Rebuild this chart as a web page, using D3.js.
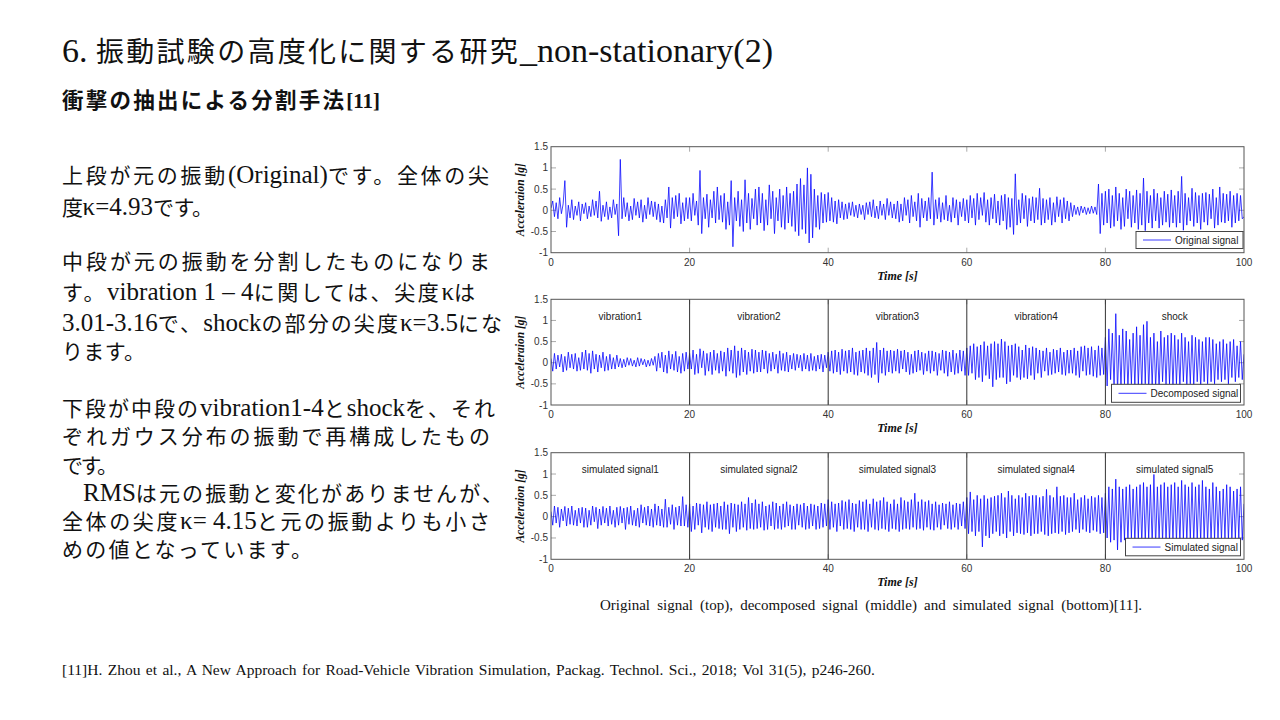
<!DOCTYPE html>
<html><head><meta charset="utf-8">
<script src="https://cdn.jsdelivr.net/npm/d3@7"></script>
<style>body{margin:0;background:#fff}svg{display:block}</style>
</head><body>
<svg id="c" width="1280" height="720"></svg>
<script>
// ---- DATA: acceleration in hundredths of g, one sample every 0.25 s ----
const sampleStep = 0.25;
const valueUnit = 0.01;
const originalSignal = [
 5,22,-15,18,-20,30,-8,15,70,-40,12,-18,25,-22,10,-12,20,-25,15,-8,
 18,-20,10,-15,25,-12,22,-18,45,-26,12,-15,20,-22,8,-18,25,-10,15,-60,
 120,-20,30,-15,18,-25,10,-22,28,-12,20,-18,25,-28,12,-20,30,-10,22,-15,
 20,-22,15,-28,10,-30,25,-18,55,-42,30,-20,35,-15,40,-32,18,-25,30,-20,
 30,-25,40,-12,22,-35,94,-55,30,-20,38,-40,25,-18,45,-30,55,-22,35,-28,
 40,-45,20,-35,70,-86,30,-25,45,-38,25,-50,72,-30,40,-45,28,-20,50,-35,
 55,-30,40,-48,25,-35,60,-20,45,-55,30,-25,50,-40,35,-45,55,-30,40,-38,
 45,-50,62,-60,75,-45,60,-55,100,-77,85,-65,50,-40,35,-45,42,-30,38,-28,
 42,-25,30,-28,22,-32,25,-18,20,-22,15,-20,18,-12,20,-15,12,-18,15,-10,
 12,-22,18,-10,20,-15,25,-18,10,-20,22,-12,15,-22,28,-12,20,-18,15,-20,
 22,-28,15,-25,30,-12,25,-30,35,-15,20,-25,40,-40,28,-18,22,-25,30,-20,
 90,-35,25,-20,30,-28,18,-22,35,-25,12,-28,30,-18,25,-35,20,-15,28,-25,
 25,-30,35,-18,28,-35,40,-22,30,-12,42,-28,25,-35,30,-20,38,-30,22,-35,
 35,-25,38,-45,30,-40,28,-57,86,-35,25,-30,40,-20,35,-38,28,-25,32,-30,
 30,-22,52,-35,28,-30,25,-22,30,-35,18,-28,32,-15,25,-30,30,-20,22,-25,
 18,-15,12,-10,8,-12,10,-6,8,-10,6,-8,10,-7,8,-10,62,-55,40,-35,
 45,-30,50,-42,35,-38,55,-25,40,-45,30,-38,50,-20,45,-40,35,-30,48,-45,
 40,-35,76,-48,45,-30,35,-42,50,-25,40,-42,30,-35,45,-28,38,-40,48,-30,
 35,-40,45,-30,80,-47,40,-35,30,-25,52,-38,42,-30,35,-45,40,-28,42,-35,
 38,-20,50,-42,30,-35,55,-28,40,-30,38,-25,45,-40,35,-30,40,-25,35,-20,
 -15
];
const decomposedSignal = [
 10,-20,22,-15,18,-10,20,-22,15,-18,25,-12,20,-15,22,-20,12,-18,25,-15,
 30,-18,22,-25,28,-15,20,-22,18,-12,25,-20,15,-18,20,-15,12,-15,18,-10,
 10,-12,8,-10,12,-6,10,-8,6,-10,12,-8,10,-5,8,-10,6,-8,10,-6,
 15,-20,22,-12,25,-22,18,-25,28,-15,20,-18,27,-22,15,-25,22,-20,25,-15,
 22,-15,30,-28,20,-25,33,-12,28,-30,22,-20,25,-28,30,-18,22,-25,28,-20,
 25,-32,35,-20,30,-25,40,-35,28,-30,35,-22,30,-28,25,-20,32,-25,30,-22,
 25,-22,30,-15,28,-25,22,-20,25,-15,20,-25,28,-18,22,-20,25,-22,18,-15,
 22,-18,20,-12,18,-20,22,-15,18,-20,22,-18,15,-20,18,-15,20,-22,18,-12,
 25,-20,28,-25,30,-22,25,-28,32,-20,28,-25,30,-22,35,-28,25,-30,28,-22,
 30,-25,35,-30,28,-35,35,-28,48,-47,30,-25,35,-30,28,-22,30,-25,28,-20,
 32,-25,28,-15,30,-22,25,-28,20,-25,28,-22,30,-18,25,-28,22,-20,28,-25,
 28,-20,25,-30,22,-18,30,-25,28,-32,25,-22,30,-28,22,-25,30,-20,28,-30,
 35,-30,40,-25,45,-40,38,-35,42,-45,50,-30,40,-38,45,-57,50,-40,45,-35,
 56,-35,50,-50,40,-45,42,-30,45,-35,38,-40,30,-35,42,-38,35,-30,38,-40,
 35,-25,30,-35,28,-20,35,-30,25,-28,32,-25,30,-22,35,-28,25,-30,30,-25,
 30,-25,35,-30,28,-35,38,-20,40,-30,35,-28,38,-32,30,-35,40,-30,35,-28,
 60,-55,80,-40,70,-60,116,-70,65,-60,80,-50,75,-65,55,-50,70,-60,85,-55,
 65,-65,90,-50,98,-70,60,-55,70,-60,50,-65,75,-45,60,-55,65,-50,70,-60,
 65,-50,55,-60,70,-45,60,-55,50,-50,65,-55,60,-45,55,-60,50,-45,60,-50,
 60,-45,55,-50,45,-40,50,-45,55,-40,45,-50,50,-35,55,-45,40,-35,50,-40,
 20
];
const simulatedSignal = [
 12,-20,25,-15,22,-25,18,-10,24,-22,20,-18,25,-20,15,-22,20,-15,22,-25,
 20,-25,15,-20,25,-12,22,-28,18,-20,24,-15,20,-22,25,-18,15,-25,22,-20,
 24,-15,20,-30,22,-18,25,-20,15,-22,20,-25,28,-15,22,-20,25,-22,18,-25,
 30,-20,25,-22,18,-25,41,-25,22,-18,28,-30,22,-20,25,-22,47,-22,28,-25,
 30,-35,25,-30,32,-20,30,-38,28,-25,35,-30,28,-35,30,-25,32,-28,25,-30,
 35,-30,28,-40,32,-25,30,-35,28,-30,35,-25,30,-32,45,-28,32,-30,40,-28,
 30,-25,35,-32,25,-30,28,-22,35,-30,32,-28,25,-30,30,-25,35,-22,28,-30,
 25,-30,30,-20,28,-25,32,-30,25,-28,30,-22,28,-30,25,-28,32,-25,30,-22,
 40,-30,35,-25,30,-35,32,-22,38,-30,35,-28,40,-30,32,-35,30,-25,38,-30,
 35,-30,40,-35,30,-25,42,-30,35,-32,38,-28,45,-30,35,-35,30,-28,40,-30,
 30,-35,45,-30,38,-28,35,-30,40,-25,55,-30,35,-28,40,-32,35,-25,38,-30,
 30,-32,35,-25,28,-30,32,-20,30,-28,35,-30,28,-25,32,-30,30,-22,35,-28,
 45,-40,58,-35,40,-45,50,-35,42,-71,50,-45,42,-50,45,-40,48,-35,50,-45,
 55,-40,45,-50,60,-35,50,-45,42,-38,50,-40,45,-42,55,-38,48,-45,50,-40,
 50,-40,45,-35,48,-42,64,-45,50,-40,45,-38,70,-40,48,-35,50,-42,45,-38,
 45,-35,55,-30,40,-38,45,-30,50,-35,42,-38,48,-32,45,-35,50,-40,45,-38,
 55,-50,70,-60,65,-55,88,-78,70,-60,65,-55,70,-60,75,-50,65,-62,70,-55,
 75,-65,80,-60,70,-55,75,-68,99,-70,70,-55,75,-60,80,-65,70,-60,75,-58,
 80,-60,70,-65,85,-55,75,-60,70,-55,80,-62,70,-58,75,-60,85,-55,70,-60,
 65,-60,80,-55,70,-50,60,-55,65,-50,75,-58,70,-55,60,-52,65,-50,70,-55,
 30
];
const xTicks = [0, 20, 40, 60, 80, 100];
const yTicks = [-1, -0.5, 0, 0.5, 1, 1.5];
const segmentBounds = [20, 40, 60, 80];
const decomposedLabels = ["vibration1", "vibration2", "vibration3", "vibration4", "shock"];
const simulatedLabels = ["simulated signal1", "simulated signal2", "simulated signal3", "simulated signal4", "simulated signal5"];
const legendNames = ["Original signal", "Decomposed signal", "Simulated signal"];

// ---- CHART ----
const svg = d3.select("#c");
const serif = "'Liberation Serif','Times New Roman',serif";
const jp = "'Noto Sans CJK JP','Noto Sans',sans-serif";
const sans = "'Liberation Sans',Arial,sans-serif";
const x = d3.scaleLinear().domain([0, 100]).range([551, 1244]);

const panels = [
  {top: 146.7, bottom: 252.7, data: originalSignal, legend: legendNames[0], labels: null, legendBox: {x: 1136, y: 231.5, w: 107, h: 17}},
  {top: 299.3, bottom: 405, data: decomposedSignal, legend: legendNames[1], labels: decomposedLabels, legendBox: {x: 1111.5, y: 384.3, w: 129, h: 18}},
  {top: 452.7, bottom: 559.3, data: simulatedSignal, legend: legendNames[2], labels: simulatedLabels, legendBox: {x: 1125.5, y: 538.3, w: 115, h: 17.5}}
];

panels.forEach((p, pi) => {
  const y = d3.scaleLinear().domain([-1, 1.5]).range([p.bottom, p.top]);
  const g = svg.append("g");
  const cid = "clip" + pi;
  svg.append("clipPath").attr("id", cid).append("rect")
    .attr("x", x(0)).attr("y", p.top).attr("width", x(100) - x(0)).attr("height", p.bottom - p.top);

  xTicks.slice(1, -1).forEach(t => {
    g.append("line").attr("x1", x(t)).attr("x2", x(t)).attr("y1", p.top).attr("y2", p.top + 5).attr("stroke", "#aaa");
    g.append("line").attr("x1", x(t)).attr("x2", x(t)).attr("y1", p.bottom).attr("y2", p.bottom - 5).attr("stroke", "#aaa");
  });
  yTicks.slice(1, -1).forEach(t => {
    g.append("line").attr("x1", x(0)).attr("x2", x(0) + 5).attr("y1", y(t)).attr("y2", y(t)).attr("stroke", "#aaa");
    g.append("line").attr("x1", x(100)).attr("x2", x(100) - 5).attr("y1", y(t)).attr("y2", y(t)).attr("stroke", "#aaa");
  });

  const line = d3.line().x((d, i) => x(i * sampleStep)).y(d => y(d * valueUnit));
  g.append("path").datum(p.data).attr("d", line)
    .attr("fill", "none").attr("stroke", "#0000ff").attr("stroke-width", 1)
    .attr("stroke-opacity", 0.75).attr("clip-path", `url(#${cid})`);

  if (p.labels) {
    segmentBounds.forEach(b => {
      g.append("line").attr("x1", x(b)).attr("x2", x(b)).attr("y1", p.top).attr("y2", p.bottom)
        .attr("stroke", "#333").attr("stroke-width", 1);
    });
    const edges = [0, ...segmentBounds, 100];
    p.labels.forEach((lab, i) => {
      g.append("text").attr("x", x((edges[i] + edges[i + 1]) / 2)).attr("y", y(1.1) + 3.5)
        .attr("text-anchor", "middle").attr("font-family", sans).attr("font-size", 10)
        .attr("fill", "#222").text(lab);
    });
  }

  g.append("rect").attr("x", x(0)).attr("y", p.top).attr("width", x(100) - x(0)).attr("height", p.bottom - p.top)
    .attr("fill", "none").attr("stroke", "#555").attr("stroke-width", 1);

  yTicks.forEach(t => {
    g.append("text").attr("x", x(0) - 3).attr("y", y(t) + 3.5).attr("text-anchor", "end")
      .attr("font-family", sans).attr("font-size", 10).attr("fill", "#333").text(String(t));
  });
  xTicks.forEach(t => {
    g.append("text").attr("x", x(t)).attr("y", p.bottom + 13).attr("text-anchor", "middle")
      .attr("font-family", sans).attr("font-size", 10).attr("fill", "#333").text(String(t));
  });

  g.append("text").attr("x", (x(0) + x(100)) / 2).attr("y", p.bottom + 27).attr("text-anchor", "middle")
    .attr("font-family", serif).attr("font-size", 12).attr("font-weight", "bold").attr("font-style", "italic")
    .attr("fill", "#111").text("Time [s]");
  const yc = (p.top + p.bottom) / 2;
  g.append("text").attr("transform", `translate(524,${yc}) rotate(-90)`).attr("text-anchor", "middle")
    .attr("font-family", serif).attr("font-size", 11.5).attr("font-weight", "bold").attr("font-style", "italic")
    .attr("fill", "#111").text("Acceleraion [g]");

  const L = p.legendBox;
  g.append("rect").attr("x", L.x).attr("y", L.y).attr("width", L.w).attr("height", L.h)
    .attr("fill", "#fff").attr("stroke", "#444").attr("stroke-width", 1);
  g.append("line").attr("x1", L.x + 7).attr("x2", L.x + 35).attr("y1", L.y + L.h / 2).attr("y2", L.y + L.h / 2)
    .attr("stroke", "#3a3aff").attr("stroke-width", 1);
  g.append("text").attr("x", L.x + 39).attr("y", L.y + L.h / 2 + 3.5)
    .attr("font-family", sans).attr("font-size", 10).attr("fill", "#222").text(p.legend);
});

// ---- TEXT ----
const cjkRe = /[\u3000-\u30ff\u4e00-\u9fff\uff00-\uffef]/;
function mixedText(str, tx, ty, latinSize, cjkSize, width, bold) {
  const t = svg.append("text").attr("x", tx).attr("y", ty).attr("fill", "#111")
    .attr("font-weight", bold ? "bold" : "normal");
  const runs = [];
  for (const ch of str) {
    const isJ = cjkRe.test(ch);
    if (runs.length && runs[runs.length - 1].j === isJ) runs[runs.length - 1].s += ch;
    else runs.push({j: isJ, s: ch});
  }
  const spans = runs.map(r => t.append("tspan").attr("font-family", r.j ? jp : serif)
    .attr("font-size", r.j ? cjkSize : latinSize).text(r.s));
  if (width) {
    const nat = t.node().getComputedTextLength();
    const nJ = [...str].filter(c => cjkRe.test(c)).length;
    const lastJ = runs.length && runs[runs.length - 1].j ? 1 : 0;
    const gaps = nJ - lastJ;
    if (gaps > 0) {
      const ls = (width - nat) / gaps;
      spans.forEach((s, i) => { if (runs[i].j) s.attr("letter-spacing", ls); });
    }
  }
  return t;
}

mixedText("6. 振動試験の高度化に関する研究_non-stationary(2)", 62, 62, 34, 28, 711, false);
mixedText("衝撃の抽出による分割手法[11]", 62, 108, 21, 21.5, 318, true);

const bodyLines = [
  ["上段が元の振動(Original)です。全体の尖", 62, 183, 427],
  ["度κ=4.93です。", 62, 215, 151],
  ["中段が元の振動を分割したものになりま", 62, 269, 428],
  ["す。vibration 1 – 4に関しては、尖度κは", 62, 300, 413],
  ["3.01-3.16で、shockの部分の尖度κ=3.5にな", 62, 331, 440],
  ["ります。", 62, 359, 83],
  ["下段が中段のvibration1-4とshockを、それ", 62, 416, 433],
  ["ぞれガウス分布の振動で再構成したもの", 62, 444, 428],
  ["です。", 62, 473, 56],
  ["RMSは元の振動と変化がありませんが、", 83, 501, 420],
  ["全体の尖度κ= 4.15と元の振動よりも小さ", 62, 529, 428],
  ["めの値となっています。", 62, 557, 250]
];
bodyLines.forEach(([s, bx, by, w]) => mixedText(s, bx, by, 25, 21, w, false));

function spacedLine(str, tx, ty, size, width) {
  const t = svg.append("text").attr("x", tx).attr("y", ty).attr("font-family", serif)
    .attr("font-size", size).attr("fill", "#111").text(str);
  const natural = t.node().getComputedTextLength();
  const gaps = (str.match(/ /g) || []).length;
  if (gaps) t.attr("word-spacing", Math.max(0, (width - natural) / gaps));
  return t;
}
spacedLine("Original signal (top), decomposed signal (middle) and simulated signal (bottom)[11].", 600, 610, 15, 542);
spacedLine("[11]H. Zhou et al., A New Approach for Road-Vehicle Vibration Simulation, Packag. Technol. Sci., 2018; Vol 31(5), p246-260.", 62, 675, 15.5, 813);
</script>
</body></html>
